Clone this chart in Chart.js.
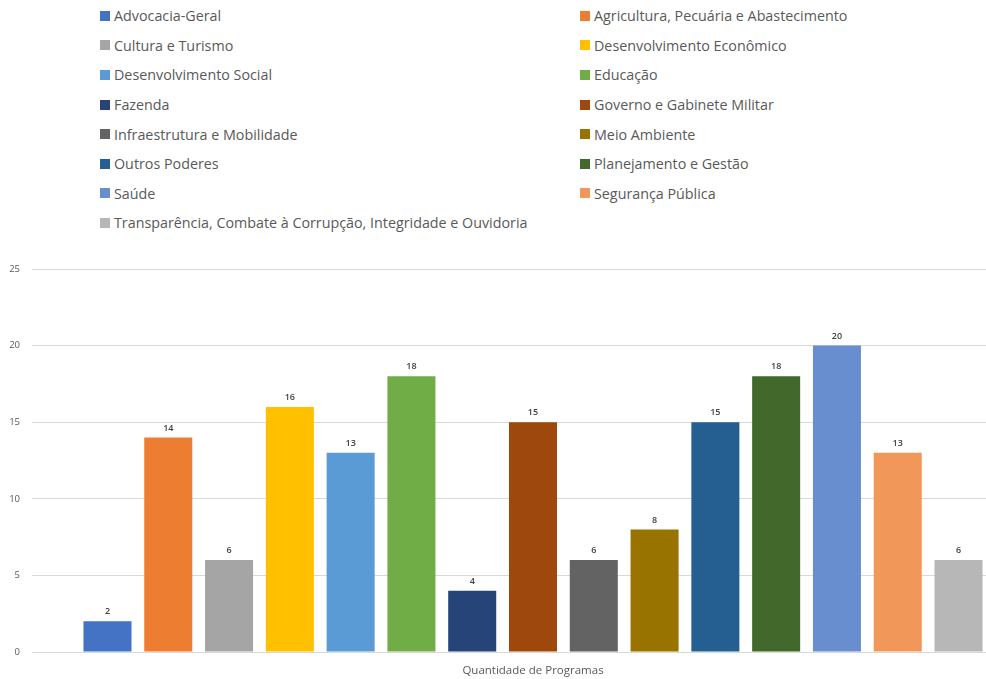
<!DOCTYPE html>
<html>
<head>
<meta charset="utf-8">
<script src="https://cdn.jsdelivr.net/npm/chart.js@4.4.1/dist/chart.umd.min.js"></script>
<style>
    body { margin: 0; background: #fff; overflow: hidden; width: 986px; height: 679px; position: relative; }
    #legend {
        position: absolute; left: 100px; top: 1px;
        display: grid; grid-template-columns: 480px auto; grid-auto-rows: 29.6px;
        font-family: "Open Sans", sans-serif; font-size: 14.3px; color: #595959;
    }
    #legend div { display: flex; align-items: center; white-space: nowrap; height: 29.6px; }
    #legend span.box { width: 10px; height: 10px; margin-right: 4px; display: inline-block; }
    #wrap { position: absolute; left: 0; top: 240px; width: 1040px; height: 439px; }
</style>
</head>
<body>
<div id="legend"></div>
<div id="wrap"><canvas id="chart"></canvas></div>
<script>
// Chart data
const categories = ['Quantidade de Programas'];
const seriesNames = [
    'Advocacia-Geral', 'Agricultura, Pecuária e Abastecimento', 'Cultura e Turismo',
    'Desenvolvimento Econômico', 'Desenvolvimento Social', 'Educação', 'Fazenda',
    'Governo e Gabinete Militar', 'Infraestrutura e Mobilidade', 'Meio Ambiente',
    'Outros Poderes', 'Planejamento e Gestão', 'Saúde', 'Segurança Pública',
    'Transparência, Combate à Corrupção, Integridade e Ouvidoria'
];
const seriesValues = [2, 14, 6, 16, 13, 18, 4, 15, 6, 8, 15, 18, 20, 13, 6];
const seriesColors = [
    '#4472C4', '#ED7D31', '#A5A5A5', '#FFC000', '#5B9BD5', '#70AD47', '#264478',
    '#9E480E', '#636363', '#997300', '#255E91', '#43682B', '#698ED0', '#F1975A', '#B7B7B7'
];
const yTicks = [0, 5, 10, 15, 20, 25];

// Draw value labels above each bar
const barLabels = {
    id: 'barLabels',
    afterDatasetsDraw(chart) {
        const ctx = chart.ctx;
        ctx.save();
        ctx.font = '600 9px "Open Sans", sans-serif';
        ctx.fillStyle = '#404040';
        ctx.textAlign = 'center';
        ctx.textBaseline = 'bottom';
        chart.data.datasets.forEach((ds, i) => {
            const meta = chart.getDatasetMeta(i);
            meta.data.forEach((bar, j) => {
                ctx.fillText(ds.data[j], bar.x, bar.y - 5);
            });
        });
        ctx.restore();
    }
};

const chart = new Chart(document.getElementById('chart'), {
    type: 'bar',
    data: {
        labels: categories,
        datasets: seriesNames.map((name, i) => ({
            label: name,
            data: [seriesValues[i]],
            backgroundColor: seriesColors[i],
            categoryPercentage: 0.91,
            barPercentage: 0.79
        }))
    },
    options: {
        responsive: true,
        maintainAspectRatio: false,
        animation: false,
        layout: { padding: { top: 29, right: 6, left: 0, bottom: 0 } },
        plugins: {
            legend: { display: false },
            tooltip: { enabled: false }
        },
        scales: {
            x: {
                grid: { display: false },
                border: { color: '#d9d9d9' },
                ticks: { color: '#595959', font: { family: 'Open Sans', size: 11.5 }, padding: 4 },
                afterFit(scale) { scale.height = 27; }
            },
            y: {
                min: 0,
                max: 25,
                afterBuildTicks(scale) { scale.ticks = yTicks.map(v => ({ value: v })); },
                grid: { color: '#d9d9d9', drawTicks: false },
                border: { display: false },
                ticks: { color: '#595959', font: { family: 'Open Sans', size: 9.5 }, padding: 12 },
                afterFit(scale) { scale.width = 32; }
            }
        }
    },
    plugins: [barLabels]
});

// Build two-column legend from the chart datasets
const legendEl = document.getElementById('legend');
chart.data.datasets.forEach(ds => {
    const item = document.createElement('div');
    item.innerHTML = `<span class="box" style="background:${ds.backgroundColor}"></span>${ds.label}`;
    legendEl.appendChild(item);
});
</script>
</body>
</html>
